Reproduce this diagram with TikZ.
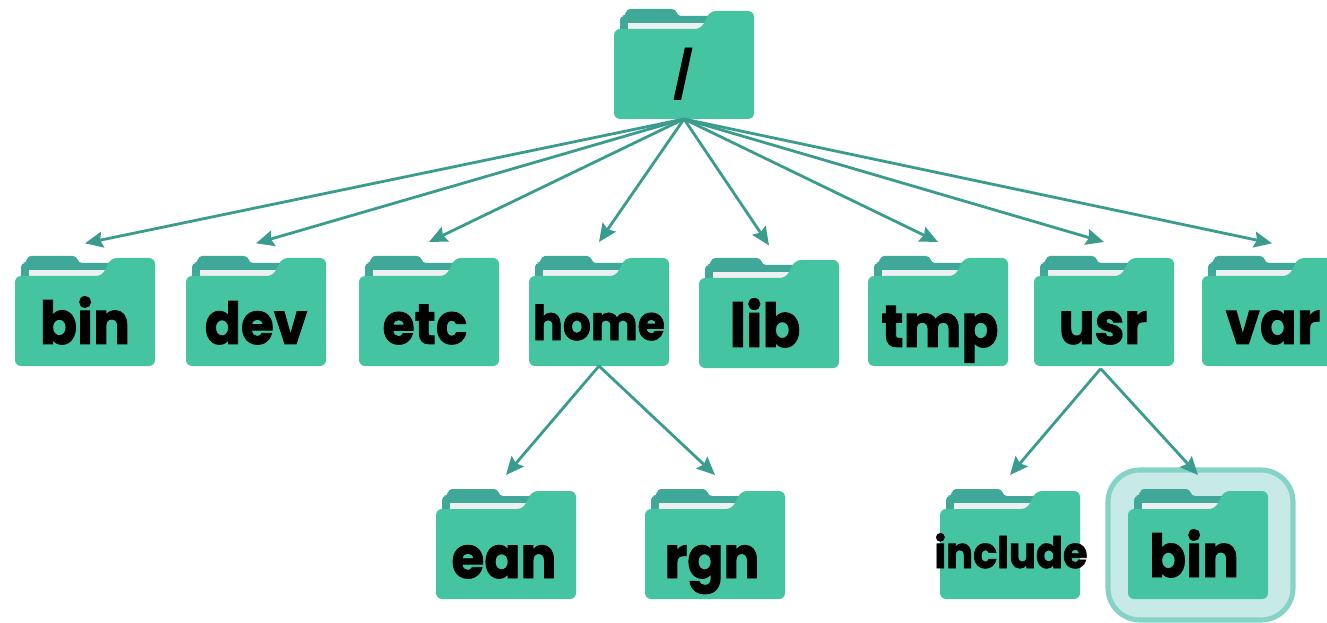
\documentclass[tikz,border=0pt]{standalone}
\usepackage{fontspec}
\setmainfont{Poppins}[BoldFeatures={FakeBold=1.5}]
\usetikzlibrary{arrows.meta}
\definecolor{foldgreen}{HTML}{45C4A2}
\definecolor{folddark}{HTML}{40A899}
\definecolor{foldpaper}{HTML}{ECF0F1}
\definecolor{linkteal}{HTML}{3A9C8F}
\definecolor{hlfill}{HTML}{C7EAE6}
\definecolor{hlline}{HTML}{85D3C6}
\tikzset{
  foldfront/.style={fill=foldgreen,rounded corners=4.5pt},
  foldback/.style={fill=folddark,rounded corners=3pt},
  foldsheet/.style={fill=foldpaper},
  foldbox/.style={draw=none,inner sep=0pt,outer sep=0pt,minimum width=105pt,minimum height=81pt},
  lab/.style={inner sep=0pt,anchor=base,text=black,transform shape,xscale=0.92},
  link/.style={draw=linkteal,line width=2.1pt,-{Stealth[length=13.5pt,width=12pt,inset=2pt]}},
}
% name, left, top, label, label centre x, label baseline y, font size (pt)
\newcommand{\fold}[7]{%
  \begin{scope}[shift={(#2,#3)}]
    \fill[foldback] (6,24) -- (6,5) -- (12,5) -- (12,-2) -- (62,-2) -- (63,5) -- (104,5) -- (104,24) -- cycle;
    \fill[foldsheet] (14,12) -- (94,12) -- (94,20) -- (14,20) -- cycle;
    \fill[foldfront] (0,108) -- (0,18) -- (87,18) -- (96,0) -- (140,0) -- (140,108) -- cycle;
    \node[foldbox] (#1) at (70,54) {};
  \end{scope}
  \node[lab,font=\fontsize{#7}{#7}\selectfont\bfseries] (#1-text) at (#5,#6) {#4};
}
\begin{document}
\begin{tikzpicture}[x=0.75pt,y=-0.75pt]
\useasboundingbox (0,0) rectangle (1327,623);
\clip (0,0) rectangle (1327,623);
\fill[white] (0,0) rectangle (1327,623);
\draw[draw=hlline,fill=hlfill,line width=3.8pt,rounded corners=24pt] (1108,470) rectangle (1293,620);
\fold{root}{614}{11}{/}{683}{91}{34}
\fold{bin}{15}{258}{bin}{85}{344}{44.5}
\fold{dev}{186}{258}{dev}{256}{344}{43.5}
\fold{etc}{359}{258}{etc}{425}{344}{42.5}
\fold{home}{529}{258}{home}{599}{340}{36}
\fold{lib}{699}{260}{lib}{765}{347}{45.5}
\fold{tmp}{868}{258}{tmp}{940}{347}{44.5}
\fold{usr}{1034}{258}{usr}{1103}{344}{43.5}
\fold{var}{1202}{258}{var}{1273}{344}{44.5}
\fold{ean}{436}{491}{ean}{504}{578}{43.5}
\fold{rgn}{645}{491}{rgn}{712}{578}{43.5}
\fold{include}{940}{491}{include}{1011}{568}{32.5}
\fold{binb}{1128}{491}{bin}{1194}{577}{44.5}
\foreach \t/\s in {bin/11,dev/11,etc/12,home/12,lib/11,tmp/12,usr/12,var/11}
  \draw[link] (root.south) -- ([yshift=\s pt]\t.north);
\foreach \t in {ean,rgn}
  \draw[link] (home.south) -- ([yshift=12pt]\t.north);
\draw[link] ([xshift=-2.5pt,yshift=-2pt]usr.south) -- ([yshift=12pt]include.north);
\draw[link] ([xshift=-2.5pt,yshift=-2pt]usr.south) -- ([yshift=12pt]binb.north);
\end{tikzpicture}
\end{document}
